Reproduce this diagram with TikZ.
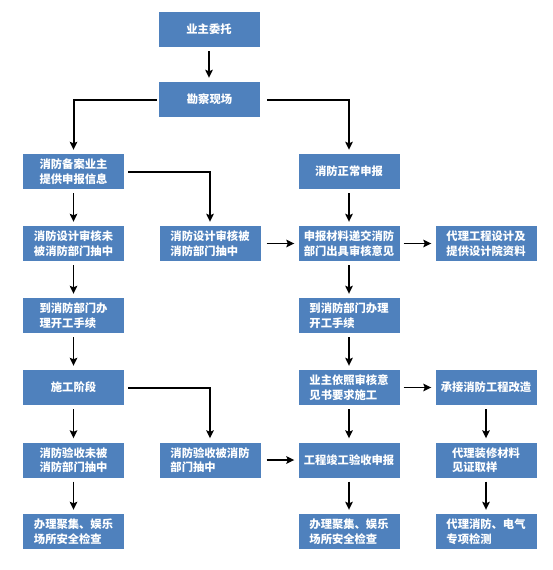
\documentclass[tikz,border=0pt]{standalone}
\usepackage{fontspec}
\newfontfamily\cjk{Noto Sans CJK SC}
\usetikzlibrary{arrows.meta}
\definecolor{boxblue}{HTML}{4F81BD}
\begin{document}
\begin{tikzpicture}[x=1pt,y=-1pt,
  box/.style={rectangle,fill=boxblue,minimum width=101pt,minimum height=35pt,inner sep=0pt,
    text=white,font=\cjk\bfseries\fontsize{11.3}{14.5}\selectfont,align=left},
  arr/.style={line width=1.6pt,-{Stealth[length=8pt,width=7.5pt,inset=1.5pt]},shorten <=4pt,shorten >=4pt},
  elb/.style={line width=2pt,-{Stealth[length=8pt,width=7.5pt,inset=1.5pt]},shorten <=4pt,shorten >=4pt}]
\useasboundingbox (0,0) rectangle (552,570);
\fill[white] (0,0) rectangle (552,570);
% row y: 29.5, 99.5, 171.5, 243.5, 315.5, 387.5, 460, 531.5
\node[box] (yz) at (209,29.5) {业主委托};
\node[box] (kc) at (209.5,99.5) {勘察现场};
\node[box] (l1) at (73.5,171.5) {消防备案业主\\提供申报信息};
\node[box] (l2) at (73.5,243.5) {消防设计审核未\\被消防部门抽中};
\node[box] (l3) at (73.5,315.5) {到消防部门办\\理开工手续};
\node[box] (l4) at (73.5,387.5) {施工阶段};
\node[box] (l5) at (73.5,460) {消防验收未被\\消防部门抽中};
\node[box] (l6) at (73.5,531.5) {办理聚集、娱乐\\场所安全检查};
\node[box] (m2) at (210,243.5) {消防设计审核被\\消防部门抽中};
\node[box] (m5) at (210,460) {消防验收被消防\\部门抽中};
\node[box] (r1) at (349,171.5) {消防正常申报};
\node[box] (r2) at (349,243.5) {申报材料递交消防\\部门出具审核意见};
\node[box] (r3) at (349,315.5) {到消防部门办理\\开工手续};
\node[box] (r4) at (349,387.5) {业主依照审核意\\见书要求施工};
\node[box] (r5) at (349,460) {工程竣工验收申报};
\node[box] (r6) at (349,531.5) {办理聚集、娱乐\\场所安全检查};
\node[box] (f2) at (486,243.5) {代理工程设计及\\提供设计院资料};
\node[box] (f4) at (486,387.5) {承接消防工程改造};
\node[box] (f5) at (486,460) {代理装修材料\\见证取样};
\node[box] (f6) at (486,531.5) {代理消防、电气\\专项检测};
% vertical arrows
\draw[arr] (yz) -- (yz|-kc.north);
\draw[arr] (l1) -- (l2);
\draw[arr] (l2) -- (l3);
\draw[arr] (l3) -- (l4);
\draw[arr] (l4) -- (l5);
\draw[arr] (l5) -- (l6);
\draw[arr] (r1) -- (r2);
\draw[arr] (r2) -- (r3);
\draw[arr] (r3) -- (r4);
\draw[arr] (r4) -- (r5);
\draw[arr] (r5) -- (r6);
\draw[arr] (f4) -- (f5);
\draw[arr] (f5) -- (f6);
% horizontal arrows
\draw[arr,shorten <=6pt] (m2) -- (r2);
\draw[arr,shorten <=6pt] (m5) -- (r5);
\draw[arr] (r2) -- (f2);
\draw[arr] (r4) -- (f4);
% elbows
\draw[elb,shorten <=2pt] (kc.west) -| (l1.north);
\draw[elb,shorten <=7pt] (kc.east) -| (r1.north);
\draw[elb] (l1.east) -| (m2.north);
\draw[elb] (l4.east) -| (m5.north);
\end{tikzpicture}
\end{document}
